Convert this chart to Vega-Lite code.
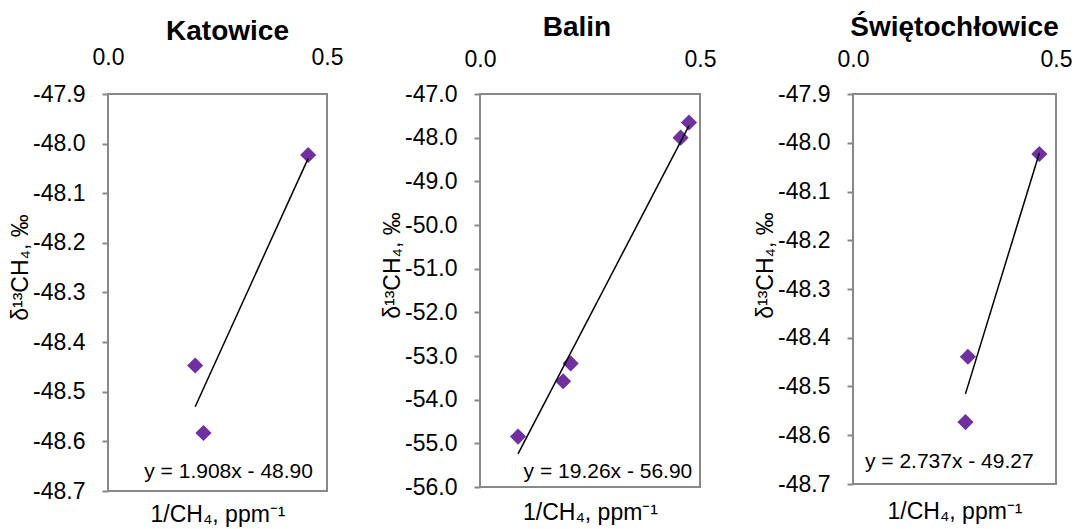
{
  "$schema": "https://vega.github.io/schema/vega-lite/v6.json",
  "padding": {"left": 8, "top": 13, "right": 5, "bottom": 5},
  "background": "white",
  "datasets": {
    "pts": [
      {"site": "Katowice", "x": 0.457, "y": -48.023},
      {"site": "Katowice", "x": 0.199, "y": -48.447},
      {"site": "Katowice", "x": 0.218, "y": -48.583},
      {"site": "Balin", "x": 0.475, "y": -47.653},
      {"site": "Balin", "x": 0.456, "y": -48.0},
      {"site": "Balin", "x": 0.206, "y": -53.169},
      {"site": "Balin", "x": 0.189, "y": -53.577},
      {"site": "Balin", "x": 0.0864, "y": -54.846},
      {"site": "Świętochłowice", "x": 0.459, "y": -48.023},
      {"site": "Świętochłowice", "x": 0.283, "y": -48.439},
      {"site": "Świętochłowice", "x": 0.277, "y": -48.573}
    ],
    "eq": [
      {"site": "Katowice", "x": 0.468, "y": -48.662, "label": "y = 1.908x - 48.90"},
      {"site": "Balin", "x": 0.4825, "y": -55.654, "label": "y = 19.26x - 56.90"},
      {"site": "Świętochłowice", "x": 0.445, "y": -48.654, "label": "y = 2.737x - 49.27"}
    ]
  },
  "bounds": "flush",
  "spacing": 153,
  "hconcat": [
    {
      "width": 219, "height": 397,
      "title": {"text": "Katowice", "dx": 10, "offset": 0},
      "encoding": {
        "y": {"field": "y", "type": "quantitative",
          "scale": {"domain": [-48.7, -47.9], "nice": false, "zero": false},
          "axis": {"values": [-48.7, -48.6, -48.5, -48.4, -48.3, -48.2, -48.1, -48.0, -47.9], "labelExpr": "replace(format(datum.value, '.1f'), '\u2212', '-')", "title": "δ¹³CH₄, ‰", "grid": false, "domain": false, "tickSize": 6, "labelPadding": 17, "titlePadding": 0, "titleY": 173}}
      },
      "layer": [
        {
          "data": {"name": "pts"},
          "transform": [{"filter": "datum.site === 'Katowice'"}],
          "mark": {"type": "point", "shape": "diamond", "filled": true, "size": 260, "color": "#7030A0", "opacity": 1},
          "encoding": {
            "x": {"field": "x", "type": "quantitative", "scale": {"domain": [0, 0.5], "nice": false, "zero": false},
              "axis": {"orient": "top", "values": [0, 0.5], "format": ".1f", "title": null, "ticks": false, "domain": false, "grid": false, "labelPadding": 25}}
          }
        },
        {
          "data": {"name": "pts"},
          "transform": [{"filter": "datum.site === 'Katowice'"}, {"regression": "y", "on": "x"}],
          "mark": {"type": "line", "color": "black", "strokeWidth": 1.5},
          "encoding": {
            "x": {"field": "x", "type": "quantitative", "scale": {"domain": [0, 0.5], "nice": false, "zero": false},
              "axis": {"orient": "bottom", "labels": false, "ticks": false, "domain": false, "grid": false, "labelPadding": 0, "title": "1/CH₄, ppm⁻¹", "titlePadding": 12}}
          }
        },
        {
          "data": {"name": "eq"},
          "transform": [{"filter": "datum.site === 'Katowice'"}],
          "mark": {"type": "text", "align": "right", "baseline": "middle", "fontSize": 21, "color": "black"},
          "encoding": {
            "x": {"field": "x", "type": "quantitative", "scale": {"domain": [0, 0.5], "nice": false, "zero": false}, "axis": null},
            "text": {"field": "label"}
          }
        }
      ],
      "resolve": {"axis": {"x": "independent"}}
    },
    {
      "width": 220, "height": 393,
      "title": {"text": "Balin", "dx": -13, "offset": 6},
      "encoding": {
        "y": {"field": "y", "type": "quantitative",
          "scale": {"domain": [-56, -47], "nice": false, "zero": false},
          "axis": {"values": [-56, -55, -54, -53, -52, -51, -50, -49, -48, -47], "labelExpr": "replace(format(datum.value, '.1f'), '\u2212', '-')", "title": "δ¹³CH₄, ‰", "grid": false, "domain": false, "tickSize": 6, "labelPadding": 17, "titlePadding": 0, "titleY": 171}}
      },
      "layer": [
        {
          "data": {"name": "pts"},
          "transform": [{"filter": "datum.site === 'Balin'"}],
          "mark": {"type": "point", "shape": "diamond", "filled": true, "size": 260, "color": "#7030A0", "opacity": 1},
          "encoding": {
            "x": {"field": "x", "type": "quantitative", "scale": {"domain": [0, 0.5], "nice": false, "zero": false},
              "axis": {"orient": "top", "values": [0, 0.5], "format": ".1f", "title": null, "ticks": false, "domain": false, "grid": false, "labelPadding": 23}}
          }
        },
        {
          "data": {"name": "pts"},
          "transform": [{"filter": "datum.site === 'Balin'"}, {"regression": "y", "on": "x"}],
          "mark": {"type": "line", "color": "black", "strokeWidth": 1.5},
          "encoding": {
            "x": {"field": "x", "type": "quantitative", "scale": {"domain": [0, 0.5], "nice": false, "zero": false},
              "axis": {"orient": "bottom", "labels": false, "ticks": false, "domain": false, "grid": false, "labelPadding": 0, "title": "1/CH₄, ppm⁻¹", "titlePadding": 14}}
          }
        },
        {
          "data": {"name": "eq"},
          "transform": [{"filter": "datum.site === 'Balin'"}],
          "mark": {"type": "text", "align": "right", "baseline": "middle", "fontSize": 21, "color": "black"},
          "encoding": {
            "x": {"field": "x", "type": "quantitative", "scale": {"domain": [0, 0.5], "nice": false, "zero": false}, "axis": null},
            "text": {"field": "label"}
          }
        }
      ],
      "resolve": {"axis": {"x": "independent"}}
    },
    {
      "width": 203, "height": 390,
      "title": {"text": "Świętochłowice", "dx": 0, "offset": 6},
      "encoding": {
        "y": {"field": "y", "type": "quantitative",
          "scale": {"domain": [-48.7, -47.9], "nice": false, "zero": false},
          "axis": {"values": [-48.7, -48.6, -48.5, -48.4, -48.3, -48.2, -48.1, -48.0, -47.9], "labelExpr": "replace(format(datum.value, '.1f'), '\u2212', '-')", "title": "δ¹³CH₄, ‰", "grid": false, "domain": false, "tickSize": 6, "labelPadding": 17, "titlePadding": 0, "titleY": 171}}
      },
      "layer": [
        {
          "data": {"name": "pts"},
          "transform": [{"filter": "datum.site === 'Świętochłowice'"}],
          "mark": {"type": "point", "shape": "diamond", "filled": true, "size": 260, "color": "#7030A0", "opacity": 1},
          "encoding": {
            "x": {"field": "x", "type": "quantitative", "scale": {"domain": [0, 0.5], "nice": false, "zero": false},
              "axis": {"orient": "top", "values": [0, 0.5], "format": ".1f", "title": null, "ticks": false, "domain": false, "grid": false, "labelPadding": 23}}
          }
        },
        {
          "data": {"name": "pts"},
          "transform": [{"filter": "datum.site === 'Świętochłowice'"}, {"regression": "y", "on": "x"}],
          "mark": {"type": "line", "color": "black", "strokeWidth": 1.5},
          "encoding": {
            "x": {"field": "x", "type": "quantitative", "scale": {"domain": [0, 0.5], "nice": false, "zero": false},
              "axis": {"orient": "bottom", "labels": false, "ticks": false, "domain": false, "grid": false, "labelPadding": 0, "title": "1/CH₄, ppm⁻¹", "titlePadding": 16}}
          }
        },
        {
          "data": {"name": "eq"},
          "transform": [{"filter": "datum.site === 'Świętochłowice'"}],
          "mark": {"type": "text", "align": "right", "baseline": "middle", "fontSize": 21, "color": "black"},
          "encoding": {
            "x": {"field": "x", "type": "quantitative", "scale": {"domain": [0, 0.5], "nice": false, "zero": false}, "axis": null},
            "text": {"field": "label"}
          }
        }
      ],
      "resolve": {"axis": {"x": "independent"}}
    }
  ],
  "config": {
    "font": "Liberation Sans",
    "view": {"stroke": "#898989", "strokeWidth": 2},
    "axis": {"labelFontSize": 23, "titleFontSize": 23, "labelColor": "black", "titleColor": "black", "titleFontWeight": "normal", "tickColor": "#898989", "tickWidth": 2, "labelFlush": false, "labelFont": "Liberation Sans", "titleFont": "Liberation Sans"},
    "title": {"fontSize": 28, "fontWeight": "bold", "color": "black", "font": "Liberation Sans"}
  }
}
